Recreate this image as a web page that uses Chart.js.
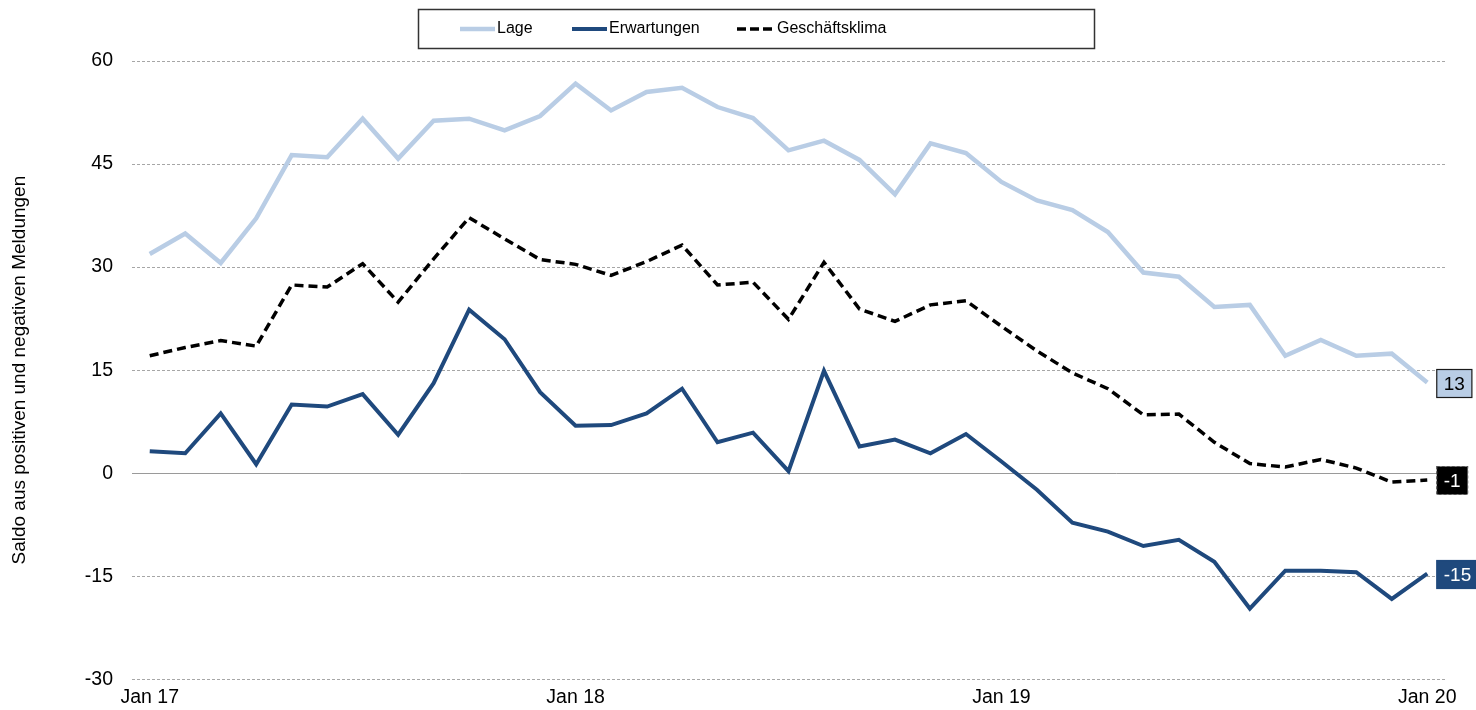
<!DOCTYPE html>
<html>
<head>
<meta charset="utf-8">
<script src="https://cdn.jsdelivr.net/npm/chart.js@4.4.0/dist/chart.umd.min.js"></script>
<style>
  html, body { margin: 0; padding: 0; background: #ffffff; }
  #wrap { width: 1476px; height: 710px; position: relative; }
</style>
</head>
<body>
<div id="wrap"><canvas id="c" width="1476" height="710"></canvas></div>
<script>
const categories = [
  'Jan 17','Feb 17','Mär 17','Apr 17','Mai 17','Jun 17','Jul 17','Aug 17','Sep 17','Okt 17','Nov 17','Dez 17',
  'Jan 18','Feb 18','Mär 18','Apr 18','Mai 18','Jun 18','Jul 18','Aug 18','Sep 18','Okt 18','Nov 18','Dez 18',
  'Jan 19','Feb 19','Mär 19','Apr 19','Mai 19','Jun 19','Jul 19','Aug 19','Sep 19','Okt 19','Nov 19','Dez 19',
  'Jan 20'
];
const tickLabels = ['Jan 17', 'Jan 18', 'Jan 19', 'Jan 20'];
const yTicks = [-30, -15, 0, 15, 30, 45, 60];
const seriesNames = ['Lage', 'Erwartungen', 'Geschäftsklima'];

const lage = [
  31.9, 34.9, 30.6, 37.1, 46.3, 46.0, 51.6, 45.8, 51.3, 51.6, 49.9, 52.0,
  56.7, 52.8, 55.5, 56.1, 53.3, 51.7, 47.0, 48.4, 45.6, 40.6, 48.0, 46.6,
  42.4, 39.7, 38.3, 35.1, 29.2, 28.6, 24.2, 24.5, 17.1, 19.4, 17.1, 17.4, 13.2
];
const erwartungen = [
  3.2, 2.9, 8.7, 1.3, 10.0, 9.7, 11.5, 5.6, 13.1, 23.8, 19.5, 11.8,
  6.9, 7.0, 8.7, 12.3, 4.5, 5.9, 0.3, 14.9, 3.9, 4.9, 2.9, 5.7,
  1.7, -2.4, -7.2, -8.5, -10.6, -9.7, -12.9, -19.7, -14.2, -14.2, -14.4, -18.3, -14.6
];
const geschaeftsklima = [
  17.1, 18.3, 19.3, 18.5, 27.4, 27.1, 30.5, 24.9, 31.2, 37.2, 34.1, 31.1,
  30.4, 28.8, 30.8, 33.2, 27.4, 27.8, 22.4, 30.7, 23.9, 22.1, 24.5, 25.1,
  21.4, 17.8, 14.6, 12.3, 8.5, 8.6, 4.5, 1.4, 0.9, 2.0, 0.75, -1.3, -1.0
];

const FONT = "'Liberation Sans', Arial, Helvetica, sans-serif";

// Legend drawn as a boxed, Excel-style legend
const boxedLegend = {
  id: 'boxedLegend',
  afterDraw(chart) {
    const ctx = chart.ctx;
    ctx.save();
    ctx.strokeStyle = '#333333';
    ctx.lineWidth = 1.5;
    ctx.strokeRect(418.5, 9.5, 676, 39);
    const starts = [460, 572, 737];
    const y = 29;
    chart.data.datasets.forEach((ds, i) => {
      const x0 = starts[i];
      ctx.beginPath();
      ctx.strokeStyle = ds.borderColor;
      ctx.lineWidth = ds.borderWidth;
      ctx.setLineDash(ds.borderDash && ds.borderDash.length ? [9, 4] : []);
      ctx.moveTo(x0, y);
      ctx.lineTo(x0 + 35, y);
      ctx.stroke();
      ctx.setLineDash([]);
      ctx.fillStyle = '#000000';
      ctx.font = '16px ' + FONT;
      ctx.textBaseline = 'middle';
      ctx.textAlign = 'left';
      ctx.fillText(ds.label, x0 + (i === 2 ? 40 : 37), y);
    });
    ctx.restore();
  }
};

// Boxed value labels at the end of each line
const endLabels = {
  id: 'endLabels',
  afterDatasetsDraw(chart) {
    const ctx = chart.ctx;
    const styles = [
      { fill: '#b9cde5', text: '#000000', stroke: '#1a1a1a', dash: [] },
      { fill: '#1f497d', text: '#ffffff', stroke: '#1f497d', dash: [] },
      { fill: '#000000', text: '#ffffff', stroke: '#555555', dash: [3, 2] }
    ];
    ctx.save();
    ctx.font = '19px ' + FONT;
    chart.data.datasets.forEach((ds, i) => {
      const meta = chart.getDatasetMeta(i);
      const last = meta.data[meta.data.length - 1];
      const v = ds.data[ds.data.length - 1];
      const txt = String(Math.round(v));
      const tw = ctx.measureText(txt).width;
      const w = tw + 14, h = 28;
      const x = last.x + 9.5, y = Math.round(last.y - h / 2) + 0.5;
      const st = styles[i];
      ctx.fillStyle = st.fill;
      ctx.fillRect(x, y, w, h);
      ctx.strokeStyle = st.stroke;
      ctx.lineWidth = 1.2;
      ctx.setLineDash(st.dash);
      ctx.strokeRect(x, y, w, h);
      ctx.setLineDash([]);
      ctx.fillStyle = st.text;
      ctx.textAlign = 'center';
      ctx.textBaseline = 'middle';
      ctx.fillText(txt, x + w / 2, y + h / 2 + 1);
    });
    ctx.restore();
  }
};

new Chart(document.getElementById('c'), {
  type: 'line',
  data: {
    labels: categories,
    datasets: [
      { label: seriesNames[0], data: lage, borderColor: '#b9cde5', backgroundColor: '#b9cde5', borderWidth: 4.5, pointRadius: 0, tension: 0, borderDash: [] },
      { label: seriesNames[1], data: erwartungen, borderColor: '#1f497d', backgroundColor: '#1f497d', borderWidth: 4, pointRadius: 0, tension: 0, borderDash: [] },
      { label: seriesNames[2], data: geschaeftsklima, borderColor: '#000000', backgroundColor: '#000000', borderWidth: 3.5, pointRadius: 0, tension: 0, borderDash: [9, 5] }
    ]
  },
  options: {
    responsive: false,
    animation: false,
    devicePixelRatio: 1,
    layout: { padding: { left: 0, right: 31, top: 61, bottom: 0 } },
    plugins: {
      legend: { display: false },
      tooltip: { enabled: false }
    },
    scales: {
      x: {
        type: 'category',
        offset: true,
        grid: { display: false, drawTicks: false },
        border: { display: false },
        ticks: {
          autoSkip: false,
          maxRotation: 0,
          padding: 7,
          color: '#000000',
          font: { family: FONT, size: 19.5 }
        },
        afterBuildTicks(scale) {
          scale.ticks = scale.ticks.filter(t => tickLabels.includes(categories[t.value]));
        },
        afterFit(scale) { scale.height = 29; }
      },
      y: {
        min: -30,
        max: 60,
        grid: {
          drawTicks: false,
          color: ctx => (ctx.tick && ctx.tick.value === 0) ? '#9a9a9a' : '#a6a6a6',
          lineWidth: 1
        },
        border: {
          display: false,
          dash: ctx => (ctx.tick && ctx.tick.value === 0) ? [] : [3, 2]
        },
        ticks: {
          padding: 19,
          color: '#000000',
          font: { family: FONT, size: 19.5 }
        },
        afterBuildTicks(scale) {
          scale.ticks = yTicks.map(v => ({ value: v }));
        },
        title: {
          display: true,
          text: 'Saldo aus positiven und negativen Meldungen',
          color: '#000000',
          font: { family: FONT, size: 19 },
          padding: { top: 8, bottom: 0 }
        },
        afterFit(scale) { scale.width = 132; }
      }
    }
  },
  plugins: [boxedLegend, endLabels]
});
</script>
</body>
</html>
